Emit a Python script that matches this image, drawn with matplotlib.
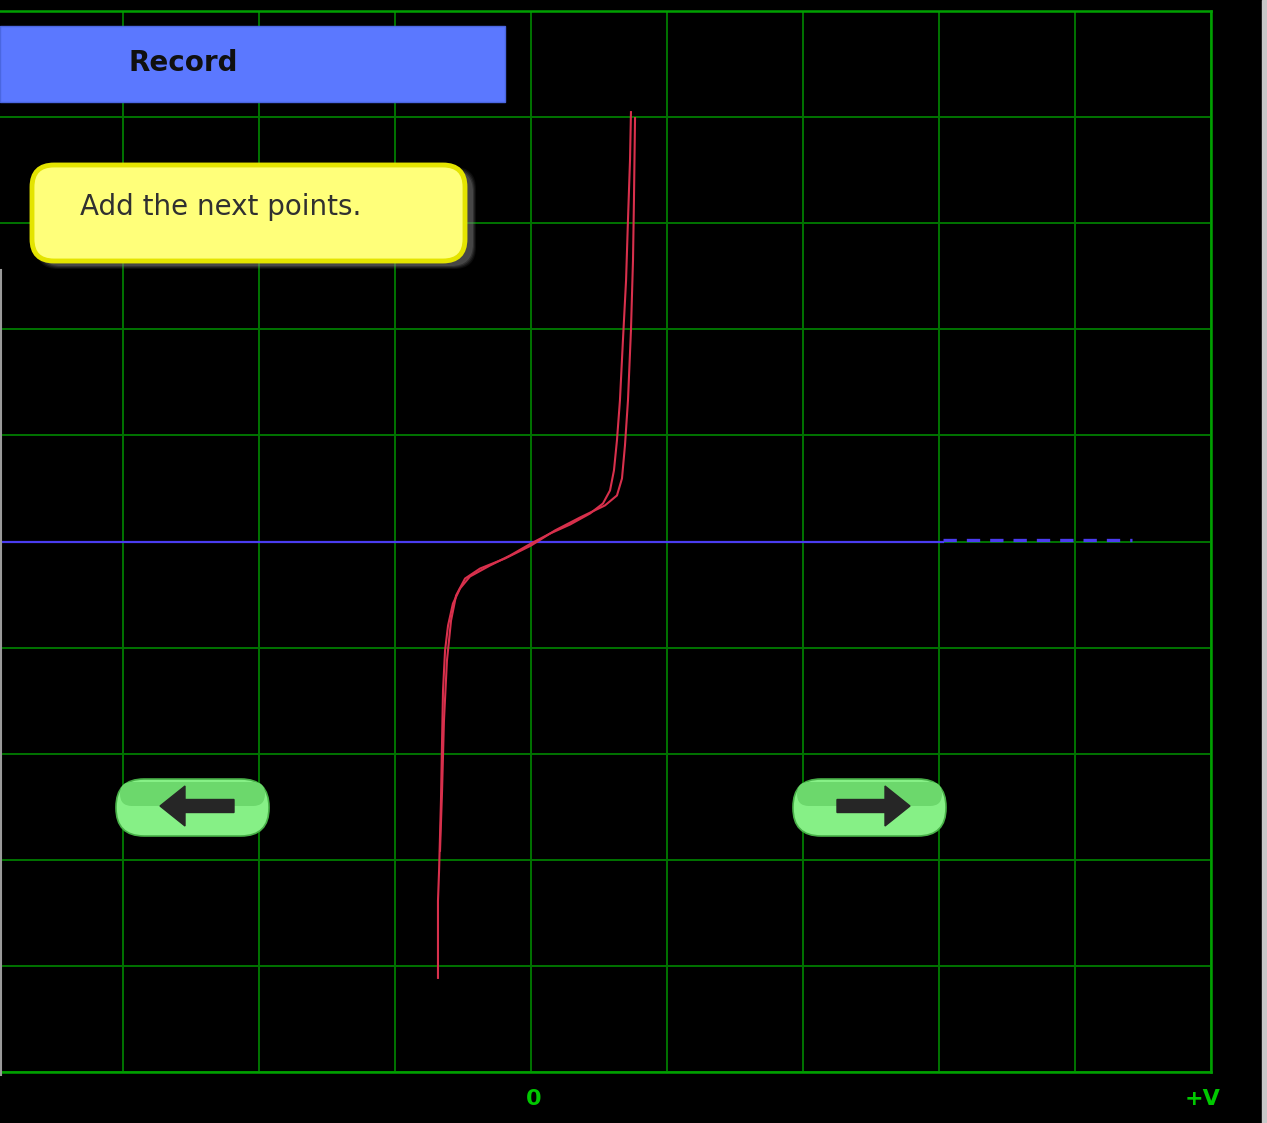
import matplotlib
matplotlib.use("Agg")
import matplotlib.pyplot as plt
from matplotlib.patches import Rectangle, FancyBboxPatch, FancyArrow

# ── data (screen divisions, 0 at the centre cross) ───────────────────────────
# forward sweep, bottom-left up to top-right
fwd_v = [-0.684, -0.684, -0.676, -0.662, -0.654, -0.647, -0.632, -0.610, -0.574,
         -0.522, -0.449, -0.301, -0.154, 0.000, 0.140, 0.287, 0.434, 0.529,
         0.581, 0.610, 0.632, 0.654, 0.676, 0.699, 0.713, 0.728, 0.735]
fwd_i = [-4.113, -3.387, -3.104, -2.443, -1.877, -1.406, -1.028, -0.792, -0.585,
         -0.443, -0.330, -0.226, -0.132, -0.019, 0.075, 0.160, 0.264, 0.358,
         0.481, 0.670, 0.953, 1.330, 1.896, 2.462, 3.028, 3.594, 4.047]

# return sweep, top-right back down
ret_v = [0.765, 0.757, 0.750, 0.735, 0.713, 0.691, 0.669, 0.632, 0.544, 0.360,
         0.176, 0.000, -0.191, -0.375, -0.485, -0.551, -0.588, -0.618, -0.640,
         -0.654, -0.669]
ret_i = [3.991, 3.217, 2.651, 1.991, 1.330, 0.906, 0.594, 0.434, 0.340, 0.226,
         0.104, -0.038, -0.160, -0.255, -0.349, -0.509, -0.745, -1.123, -1.689,
         -2.349, -2.915]

x_ticks = [-3, -2, -1, 0, 1, 2, 3, 4, 5]
y_ticks = [-5, -4, -3, -2, -1, 0, 1, 2, 3, 4, 5]
x_labels = {0.02: "0", 4.94: "+V"}

W, H = 1267, 1123
GRID = "#007400"
FRAME = "#00a000"
LABEL = "#00c800"
TRACE = "#d8304c"
ZERO = "#4a3cf0"

fig = plt.figure(figsize=(W / 100, H / 100), dpi=100, facecolor="black")

# ── scope screen ─────────────────────────────────────────────────────────────
x0, x1 = -531 / 136, 5.0
ax = fig.add_axes([0, (H - 1072) / H, 1211 / W, (1072 - 11) / H])
ax.set_facecolor("black")
ax.set_xlim(x0, x1)
ax.set_ylim(-5, 5)
ax.set_xticks(x_ticks)
ax.set_yticks(y_ticks)
ax.tick_params(length=0, labelbottom=False, labelleft=False)
ax.grid(True, color=GRID, linewidth=1.4)
for side in ["top", "right", "bottom"]:
    ax.spines[side].set_color(FRAME)
    ax.spines[side].set_linewidth(1.8)
ax.spines["left"].set_visible(False)

# zero line, solid then broken
ax.plot([x0, 3.03], [0, 0], color=ZERO, linewidth=1.6, zorder=3)
ax.plot([3.03, 4.42], [0.01, 0.01], color=ZERO, linewidth=2.4,
        dashes=(4, 3), zorder=3)

ax.plot(fwd_v, fwd_i, color=TRACE, linewidth=1.5, zorder=4)
ax.plot(ret_v, ret_i, color=TRACE, linewidth=1.5, zorder=4)

for xv, txt in x_labels.items():
    ax.text(xv, -5.25, txt, color=LABEL, fontsize=16, ha="center", va="center",
            fontfamily="Liberation Sans Narrow", fontweight="bold",
            clip_on=False)

# ── widgets drawn in screen pixels ───────────────────────────────────────────
ui = fig.add_axes([0, 0, 1, 1])
ui.set_xlim(0, W)
ui.set_ylim(H, 0)
ui.axis("off")
ui.patch.set_alpha(0)

ui.plot([1, 1], [270, 1075], color="#9a9a9a", linewidth=1.5)
ui.add_patch(Rectangle((1262, 0), 5, H, color="#c8c8c8"))

ui.add_patch(Rectangle((0, 26), 505, 76, facecolor="#5b78ff",
                       edgecolor="#4a66e0", linewidth=1))
ui.text(183, 63, "Record", fontsize=20, fontweight="bold", color="#101010",
        ha="center", va="center")

# note box with a soft shadow
for k, a in enumerate([0.10, 0.14, 0.2, 0.28]):
    grow = 8 - 2 * k
    ui.add_patch(FancyBboxPatch((50 - grow / 2 + 6, 182 - grow / 2 + 5),
                                400 + grow, 62 + grow,
                                boxstyle="round,pad=16,rounding_size=22",
                                facecolor="#808080", edgecolor="none", alpha=a))
ui.add_patch(FancyBboxPatch((48, 181), 401, 64,
                            boxstyle="round,pad=16,rounding_size=22",
                            facecolor="#ffff7a", edgecolor="#e4e400",
                            linewidth=3.5))
ui.text(80, 207, "Add the next points.", fontsize=20, color="#303030",
        ha="left", va="center")

# navigation buttons
for left, right, tip, tail in [(116, 269, 160, 234), (793, 946, 910, 837)]:
    ui.add_patch(FancyBboxPatch((left, 779), right - left, 57,
                                boxstyle="round,pad=0,rounding_size=28",
                                facecolor="#86f086", edgecolor="#48b048",
                                linewidth=1.2))
    ui.add_patch(FancyBboxPatch((left + 4, 782), right - left - 8, 24,
                                boxstyle="round,pad=0,rounding_size=12",
                                facecolor="#6cd86c", edgecolor="none"))
    ui.add_patch(FancyArrow(tail, 806, tip - tail, 0, width=13, head_width=40,
                            head_length=25, length_includes_head=True,
                            color="#262626"))

fig.savefig("out.png", dpi=100, facecolor="black")
